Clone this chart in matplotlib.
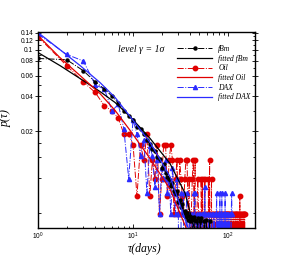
import numpy as np
import matplotlib as mpl
mpl.use("Agg")
import matplotlib.pyplot as plt
from matplotlib.ticker import FixedLocator, FixedFormatter, NullFormatter

plt.rcParams['mathtext.fontset'] = 'custom'
plt.rcParams['mathtext.rm'] = 'Liberation Sans'
plt.rcParams['mathtext.it'] = 'Liberation Sans:italic'

# return interval distributions, tau = 1, 2, 3, ... days
fbm_p = [
    0.084, 0.082, 0.066, 0.053, 0.046, 0.040, 0.035, 0.030, 0.027, 0.025,
    0.022, 0.021, 0.019, 0.017, 0.0155, 0.014, 0.0135, 0.012, 0.0115, 0.0098,
    0.0105, 0.0088, 0.0082, 0.0078, 0.0068, 0.0072, 0.0062, 0.0058, 0.0062, 0.0050,
    0.0052, 0.0045, 0.0048, 0.0040, 0.0042, 0.0037, 0.0040, 0.0035, 0.0038, 0.0034,
    0.0037, 0.0035, 0, 0.0037, 0.0035, 0.0034, 0, 0.0036, 0, 0,
    0.0034, 0.0036, 0, 0, 0, 0.0034, 0, 0, 0.0035, 0,
    0, 0, 0, 0.0034, 0, 0, 0, 0, 0, 0,
]
oil_p = [
    0.129, 0.073, 0.053, 0.043, 0.033, 0.030, 0.026, 0.019, 0.019, 0.0154,
    0.0056, 0.0154, 0.0113, 0.019, 0.0056, 0.0113, 0.0078, 0.0154, 0.0039, 0.0078,
    0.0154, 0.0154, 0.0056, 0.0113, 0.0154, 0.0113, 0.0039, 0.0078, 0.0113, 0.0039,
    0.0113, 0.0078, 0.0056, 0.0039, 0.0078, 0.0113, 0.0113, 0.0039, 0.0078, 0,
    0.0039, 0.0078, 0.0113, 0.0039, 0.0113, 0, 0.0039, 0.0078, 0.0039, 0.0039,
    0, 0.0078, 0.0039, 0.0078, 0, 0.0039, 0.0078, 0, 0.0039, 0.0039,
    0, 0.0078, 0.0039, 0.0113, 0, 0.0039, 0.0078, 0, 0.0039, 0.0039,
    0, 0.0039, 0, 0.0039, 0.0039, 0, 0.0039, 0, 0.0039, 0,
    0.0039, 0.0039, 0, 0.0039, 0, 0.0039, 0, 0, 0.0039, 0.0039,
    0, 0.0039, 0, 0.0039, 0, 0.0039, 0.0039, 0, 0.0039, 0,
    0.0039, 0, 0.0039, 0, 0, 0.0039, 0, 0.0039, 0, 0.0039,
    0, 0, 0.0039, 0, 0.0039, 0, 0, 0.0039, 0, 0.0039,
    0, 0.0039, 0, 0, 0.0039, 0, 0.0039, 0, 0, 0.0039,
    0, 0, 0.0056, 0, 0.0039, 0, 0, 0.0039, 0, 0.0039,
    0, 0, 0.0039, 0, 0, 0.0039, 0, 0.0039, 0, 0.0039,
]
dax_p = [
    0.136, 0.091, 0.080, 0.050, 0.046, 0.030, 0.034, 0.021, 0.0079, 0.025,
    0.019, 0.0124, 0.017, 0.0059, 0.015, 0.0124, 0.0067, 0.0113, 0.0039, 0.0098,
    0.0078, 0.0113, 0.0059, 0.0078, 0.0039, 0.0098, 0.0059, 0.0039, 0.0078, 0.0039,
    0, 0.0059, 0.0039, 0.0059, 0, 0.0039, 0.0059, 0, 0.0039, 0.0039,
    0, 0.0039, 0, 0.0059, 0.0059, 0, 0.0039, 0, 0.0039, 0,
    0.0039, 0, 0.0039, 0.0039, 0, 0, 0.0067, 0, 0.0039, 0,
    0, 0.0039, 0, 0.0039, 0, 0, 0.0039, 0, 0, 0.0039,
    0, 0.0039, 0, 0, 0.0039, 0.0059, 0, 0.0039, 0, 0.0039,
    0, 0.0059, 0, 0.0039, 0, 0.0059, 0, 0.0039, 0, 0,
    0.0039, 0, 0.0059, 0, 0.0039, 0, 0, 0.0039, 0, 0,
    0.0039, 0, 0, 0.0039, 0, 0, 0, 0.0039, 0.0059, 0.0039,
]

# fitted curves
fit_tau = [1, 1.70, 2.77, 4.49, 6.47, 9.30, 15.1, 24.5]
fit_fbm = [0.0944, 0.0731, 0.0566, 0.0438, 0.0353, 0.0268, 0.0174, 0.0106]
fit_oil = [0.132, 0.0855, 0.060, 0.0421, 0.0302, 0.0204, 0.0117, 0.0064]
fit_dax = [0.140, 0.100, 0.0731, 0.0523, 0.0390, 0.0268, 0.0161, 0.0082]
fit_end_tau = {"fbm": [35.3, 43.9], "oil": [36.1], "dax": [37.9]}
fit_end_p = {"fbm": [0.0059, 0.0030], "oil": [0.0030], "dax": [0.0030]}

fig = plt.figure(figsize=(2.9, 2.58), dpi=100)
ax = fig.add_axes([38 / 290, 1 - 228 / 258, 217 / 290, 196 / 258])
ax.set_xscale("log")
ax.set_yscale("log", nonpositive="clip")

tau_oil = np.arange(1, len(oil_p) + 1)
tau_dax = np.arange(1, len(dax_p) + 1)
tau_fbm = np.arange(1, len(fbm_p) + 1)

red = "#e00000"
blue = "#2b2bff"
h_oil, = ax.plot(tau_oil, oil_p, ls="-.", lw=0.7, color=red, marker="o", ms=3.2)
h_dax, = ax.plot(tau_dax, dax_p, ls="-.", lw=0.7, color=blue, marker="^", ms=3.0)
h_fbm, = ax.plot(tau_fbm, fbm_p, ls="-.", lw=0.7, color="black", marker="o", ms=2.2)

h_ffbm, = ax.plot(fit_tau + fit_end_tau["fbm"], fit_fbm + fit_end_p["fbm"], color="black", lw=0.9)
h_foil, = ax.plot(fit_tau + fit_end_tau["oil"], fit_oil + fit_end_p["oil"], color=red, lw=0.9)
h_fdax, = ax.plot(fit_tau + fit_end_tau["dax"], fit_dax + fit_end_p["dax"], color=blue, lw=0.9)

ax.set_xlim(1, 192)
ax.set_ylim(0.00298, 0.1415)

# ticks
ax.xaxis.set_major_locator(FixedLocator([1, 10, 100]))
ax.xaxis.set_major_formatter(FixedFormatter([r"$10^0$", r"$10^1$", r"$10^2$"]))
ax.xaxis.set_minor_locator(FixedLocator([i * d for d in (1, 10, 100) for i in range(2, 10)]))
ax.xaxis.set_minor_formatter(NullFormatter())
yt = [0.02, 0.04, 0.06, 0.08, 0.1, 0.12, 0.14]
ax.yaxis.set_major_locator(FixedLocator(yt))
ax.yaxis.set_major_formatter(FixedFormatter(["0.02", "0.04", "0.06", "0.08", "0.1", "0.12", "0.14"]))
ax.yaxis.set_minor_locator(FixedLocator([0.004, 0.008, 0.012, 0.016, 0.03, 0.05, 0.07, 0.09, 0.11, 0.13]))
ax.yaxis.set_minor_formatter(NullFormatter())
ax.tick_params(which="both", direction="in", top=True, right=True, labelsize=4.8, width=0.6)
ax.tick_params(which="major", length=3)
ax.tick_params(which="minor", length=1.8)
ax.tick_params(axis="y", which="major", direction="inout", length=4, pad=1.5)
ax.tick_params(axis="x", pad=2)
for lab in ax.get_xticklabels() + ax.get_yticklabels():
    lab.set_family("Liberation Sans")
for s in ax.spines.values():
    s.set_linewidth(1.0)

serif = {"family": "Liberation Serif", "style": "italic"}
ax.set_xlabel("τ(days)", fontdict=serif, fontsize=8.5)
ax.set_ylabel("p(τ)", fontdict=serif, fontsize=8.5)
ax.xaxis.set_label_coords(0.49, -0.075)
ax.yaxis.set_label_coords(-0.12, 0.56)

fig.text(118 / 290, 1 - 49 / 258, "level γ = 1σ", ha="left", va="center",
         family="Liberation Serif", style="italic", fontsize=7)

leg = fig.legend([h_fbm, h_ffbm, h_oil, h_foil, h_dax, h_fdax],
                 ["fBm", "fitted fBm", "Oil", "fitted Oil", "DAX", "fitted DAX"],
                 loc="upper left", bbox_to_anchor=(177 / 290, 1 - 45 / 258),
                 frameon=False, borderpad=0, borderaxespad=0, handlelength=4.6,
                 handletextpad=0.8, labelspacing=0.22,
                 prop={"family": "Liberation Serif", "style": "italic", "size": 5.5})

fig.savefig("out.png", dpi=100)
